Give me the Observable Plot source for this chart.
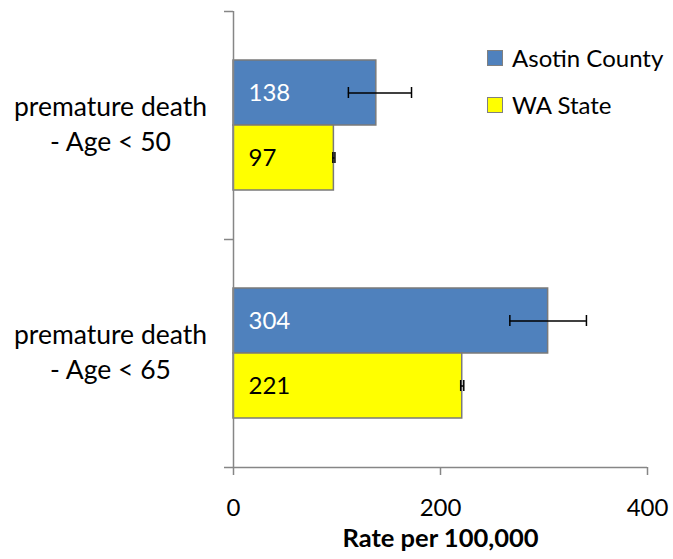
<!DOCTYPE html>
<html><head><meta charset="utf-8">
<script src="https://cdn.jsdelivr.net/npm/d3@7"></script>
<script src="https://cdn.jsdelivr.net/npm/@observablehq/plot@0.6"></script>
<style>
body{margin:0;background:#fff;}
#wrap{position:relative;width:673px;height:559px;font-family:Lato, sans-serif;}
.legend{position:absolute;left:487px;top:34px;font-size:24px;color:#000;}
.legend .row{display:flex;align-items:center;height:47px;}
.legend .sw{width:14px;height:14px;border:1px solid #808080;margin-right:9px;}
</style></head><body><div id="wrap"></div>
<script>
const categories = ["premature death - Age < 50", "premature death - Age < 65"];
const series = ["Asotin County", "WA State"];
const asotin = [138, 304];
const asotinLow = [111, 267];
const asotinHigh = [172, 341];
const wa = [97, 221];
const waLow = [96, 219.5];
const waHigh = [98, 222.5];
const xTicks = [0, 200, 400];
const colors = ["#4f81bd", "#ffff00"];
const xLabel = "Rate per 100,000";

const asotinRows = categories.map((c, i) => ({category: c, value: asotin[i], lo: asotinLow[i], hi: asotinHigh[i]}));
const waRows = categories.map((c, i) => ({category: c, value: wa[i], lo: waLow[i], hi: waHigh[i]}));
const axisColor = "#868686";
const font = "Lato, sans-serif";
const fs = 24;

const chart = Plot.plot({
  width: 673, height: 559,
  marginLeft: 233, marginRight: 26, marginTop: 11, marginBottom: 92,
  style: {fontFamily: font, fontSize: fs + "px", color: "#000", background: "white"},
  x: {domain: [0, 400], axis: null},
  y: {type: "band", domain: categories, padding: 0, axis: null},
  marks: [
    Plot.barX(asotinRows, {y: "category", x: "value", fill: colors[0], stroke: "#7a7a7a", strokeWidth: 1.5, insetTop: 49, insetBottom: 114}),
    Plot.barX(waRows, {y: "category", x: "value", fill: colors[1], stroke: "#7a7a7a", strokeWidth: 1.5, insetTop: 114, insetBottom: 49}),
    Plot.text(asotinRows, {y: "category", x: 0, text: d => String(d.value), textAnchor: "start", dx: 15, dy: -32.5, fill: "white", fontSize: fs}),
    Plot.text(waRows, {y: "category", x: 0, text: d => String(d.value), textAnchor: "start", dx: 15, dy: 32.5, fill: "black", fontSize: fs}),
    Plot.ruleY(asotinRows, {y: "category", x1: "lo", x2: "hi", dy: -32.5, stroke: "black", strokeWidth: 1.5}),
    Plot.tickX(asotinRows, {y: "category", x: "lo", insetTop: 76, insetBottom: 141, stroke: "black", strokeWidth: 1.5}),
    Plot.tickX(asotinRows, {y: "category", x: "hi", insetTop: 76, insetBottom: 141, stroke: "black", strokeWidth: 1.5}),
    Plot.ruleY(waRows, {y: "category", x1: "lo", x2: "hi", dy: 32.5, stroke: "black", strokeWidth: 1.5}),
    Plot.tickX(waRows, {y: "category", x: "lo", insetTop: 141, insetBottom: 76, stroke: "black", strokeWidth: 1.5}),
    Plot.tickX(waRows, {y: "category", x: "hi", insetTop: 141, insetBottom: 76, stroke: "black", strokeWidth: 1.5}),
    Plot.ruleX([0], {stroke: axisColor, strokeWidth: 1.5}),
    Plot.ruleY(categories, {y: d => d, dy: -114, x1: 0, x2: 0, insetLeft: -9, stroke: axisColor, strokeWidth: 1.5}),
    Plot.ruleY([categories[categories.length - 1]], {y: d => d, dy: 114, insetLeft: -9, stroke: axisColor, strokeWidth: 1.5}),
    Plot.axisX(xTicks, {anchor: "bottom", tickSize: 8, tickPadding: 23, stroke: axisColor, strokeWidth: 1.5, tickFormat: d => String(d), fill: "black", fontSize: fs, label: null}),
    Plot.text([xLabel], {frameAnchor: "bottom", dy: 79, text: d => d, fontWeight: "bold", fontSize: 25.5, fill: "black"}),
    Plot.text(categories, {y: d => d, text: d => d.replace(" - ", "\n- "), frameAnchor: "left", dx: -123, dy: -3, textAnchor: "middle", lineHeight: 1.3, fontSize: 26.5, fill: "black"})
  ]
});
document.getElementById("wrap").appendChild(chart);

const legend = document.createElement("div");
legend.className = "legend";
series.forEach((s, i) => {
  const row = document.createElement("div");
  row.className = "row";
  const sw = document.createElement("span");
  sw.className = "sw";
  sw.style.background = colors[i];
  const t = document.createElement("span");
  t.textContent = s;
  row.appendChild(sw); row.appendChild(t);
  legend.appendChild(row);
});
document.getElementById("wrap").appendChild(legend);
</script>
</body></html>
